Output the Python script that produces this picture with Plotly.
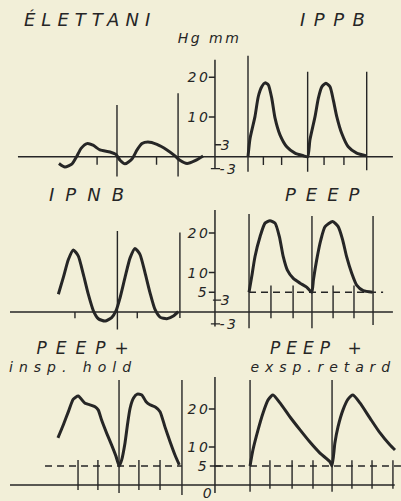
import json
import plotly.graph_objects as go

# ---------------- data (time in s, pressure in Hg mm) ----------------
elettani_t = [-2.88, -2.59, -2.24, -2.00, -1.80, -1.51, -1.22, -0.88, -0.39, -0.10, 0.10, 0.34,
              0.68, 0.93, 1.17, 1.46, 1.90, 2.39, 2.78, 3.02, 3.37, 3.76, 4.15]
elettani_p = [-1.7, -2.6, -1.8, 0.2, 2.1, 3.3, 2.9, 1.7, 1.2, 0.6, -0.9, -1.8,
              -0.6, 1.7, 3.3, 3.7, 3.1, 1.7, 0.2, -0.9, -1.7, -1.0, 0.2]

ippb_t = [0.00, 0.10, 0.34, 0.50, 0.67, 0.83, 0.99, 1.16, 1.32, 1.56, 1.89, 2.29, 2.70, 2.91,
          3.02, 3.27, 3.43, 3.60, 3.80, 4.00, 4.16, 4.33, 4.57, 4.89, 5.30, 5.79]
ippb_p = [0.0, 4.6, 10.1, 15.1, 17.6, 18.6, 18.1, 14.7, 9.7, 5.5, 2.5, 0.9, 0.25, 0.0,
          4.2, 10.1, 14.7, 17.6, 18.5, 17.6, 14.3, 10.1, 5.9, 2.5, 0.9, 0.2]

ipnb_t = [-2.91, -2.67, -2.42, -2.18, -1.94, -1.69, -1.45, -1.20, -0.96, -0.63, -0.31, -0.10,
          0.10, 0.34, 0.59, 0.83, 1.07, 1.32, 1.56, 1.80, 2.05, 2.38, 2.70, 2.94]
ipnb_p = [4.5, 8.7, 13.3, 15.7, 14.2, 9.5, 4.5, 0.3, -1.7, -2.3, -1.4, 0.3,
          3.6, 8.7, 13.7, 16.1, 14.6, 9.9, 4.9, 0.7, -1.3, -1.7, -1.0, 0.1]

peep_t = [0.05, 0.18, 0.34, 0.59, 0.83, 1.07, 1.32, 1.53, 1.72, 1.92, 2.21, 2.54, 2.86, 3.11,
          3.19, 3.35, 3.55, 3.76, 4.13, 4.40, 4.62, 4.81, 5.06, 5.30, 5.62, 6.08]
peep_p = [5.0, 8.9, 14.0, 19.1, 22.5, 23.1, 22.5, 19.1, 14.0, 10.6, 8.5, 7.3, 6.3, 5.0,
          8.1, 13.2, 18.2, 21.6, 22.9, 21.6, 18.2, 14.0, 9.8, 6.8, 5.4, 5.0]

hold_t = [-2.93, -2.67, -2.42, -2.18, -1.94, -1.61, -1.37, -1.12, -0.96, -0.80, -0.55, -0.31,
          -0.10, 0.06, 0.18, 0.34, 0.47, 0.59, 0.75, 0.94, 1.16, 1.37, 1.56, 1.85, 2.05, 2.29,
          2.54, 2.78, 2.99]
hold_p = [12.4, 15.8, 19.3, 22.6, 23.4, 21.5, 21.1, 20.6, 19.7, 17.1, 13.6, 10.5,
          7.6, 5.0, 6.6, 11.0, 16.2, 20.2, 22.8, 23.9, 23.7, 21.9, 21.1, 20.4, 19.3, 15.3,
          11.4, 7.9, 5.3]

retard_t = [0.10, 0.24, 0.49, 0.73, 0.98, 1.22, 1.56, 2.05, 2.54, 3.02, 3.51, 4.00,
            4.10, 4.24, 4.39, 4.63, 4.88, 5.12, 5.46, 5.95, 6.44, 6.93, 7.17]
retard_p = [5.0, 9.2, 14.5, 18.9, 22.4, 23.7, 21.6, 17.9, 14.5, 11.3, 8.4, 6.1,
            5.0, 11.1, 15.3, 19.7, 22.6, 23.7, 21.6, 17.6, 13.7, 10.5, 9.2]

# cycle-start lines and time ticks (s)
r1_left_cycles = [-0.05, 2.93]
r1_left_ticks = [-1.02, 1.88]
r1_right_cycles = [0.00, 2.91, 5.79]
r1_right_ticks = [0.75, 1.64, 3.71, 4.68]
r2_left_cycles = [-0.03, 3.02]
r2_left_ticks = [-2.10, 0.94]
r2_right_cycles = [0.05, 3.12, 6.10]
r2_right_ticks = [1.12, 2.20, 4.15, 5.17]
r3_left_cycles = [0.05, 3.12]
r3_left_ticks = [-1.95, -0.98, 1.02, 2.05]
r3_right_cycles = [0.10, 4.10]
r3_right_ticks = [1.07, 2.15, 3.17, 5.07, 6.05, 7.07]

# pressure scale labels
r1_labels_left = [20, 10]
r1_labels_right = [3, -3]
r2_labels_left = [20, 10, 5]
r2_labels_right = [3, -3]
r3_labels_left = [20, 10, 5]
r3_labels_zero = [0]
peep_level = 5

titles = ["ÉLETTANI", "IPPB", "IPNB", "PEEP", "PEEP+", "insp. hold", "PEEP +", "exsp.retard"]
unit_label = "Hg mm"

# ---------------- styling / geometry ----------------
W, H = 401, 501
INK = "#262626"
BG = "#f2efd8"
FONT = "DejaVu Sans"
PX_PER_S = 20.5
LEFT_ORIGIN = 118.0
RIGHT_ORIGIN = 248.0
AXIS_T = 4.73  # central pressure axis, in left-column time units

rows = {
    1: dict(base=156.7, k=3.97, lo=-7.0, hi=27.0),
    2: dict(base=312.0, k=3.95, lo=-7.0, hi=27.0),
    3: dict(base=485.0, k=3.80, lo=-4.0, hi=31.0),
}

fig = go.Figure()


def yname(r):
    return "y" if r == 1 else f"y{r}"


def segments(xa, ya, segs, width=1.4, dash=None):
    xs, ys = [], []
    for x0, y0, x1, y1 in segs:
        xs += [x0, x1, None]
        ys += [y0, y1, None]
    fig.add_trace(go.Scatter(x=xs, y=ys, mode="lines", xaxis=xa, yaxis=ya,
                             line=dict(color=INK, width=width, dash=dash),
                             hoverinfo="skip", showlegend=False))


panels = [
    dict(row=1, xa="x", t=elettani_t, p=elettani_p, cycles=r1_left_cycles,
         tops=[13.0, 16.0], bottoms=[-5.0, -5.0], ticks=r1_left_ticks, span=(0, -2.0)),
    dict(row=1, xa="x2", t=ippb_t, p=ippb_p, cycles=r1_right_cycles,
         tops=[25.4, 21.4, 21.4], bottoms=[-3.8, -3.8, -3.4], ticks=r1_right_ticks, span=(0, -2.1)),
    dict(row=2, xa="x", t=ipnb_t, p=ipnb_p, cycles=r2_left_cycles,
         tops=[20.5, 20.1], bottoms=[-4.4, -1.5], ticks=r2_left_ticks, span=(0, -1.6)),
    dict(row=2, xa="x2", t=peep_t, p=peep_p, cycles=r2_right_cycles,
         tops=[24.8, 24.3, 24.3], bottoms=[-4.1, -4.1, -3.3], ticks=r2_right_ticks,
         span=(6.7, -1.6), dashed=(0.05, 6.59)),
    dict(row=3, xa="x", t=hold_t, p=hold_p, cycles=r3_left_cycles,
         tops=[27.6, 27.6], bottoms=[-2.1, -2.6], ticks=r3_left_ticks,
         span=(6.6, -1.3), dashed=(-3.56, 3.12)),
    dict(row=3, xa="x2", t=retard_t, p=retard_p, cycles=r3_right_cycles,
         tops=[27.6, 27.6], bottoms=[-1.8, -1.8], ticks=r3_right_ticks,
         span=(6.5, -1.0), dashed=(-1.66, 7.46)),
]

baselines = {1: (-4.88, 13.41), 2: (-5.27, 13.41), 3: (-5.27, 13.50)}
axis_extent = {1: (-2.9, 24.4), 2: (-3.7, 25.8), 3: (-2.1, 28.4)}

for pnl in panels:
    ya = yname(pnl["row"])
    segs = [(c, b, c, tp) for c, tp, b in zip(pnl["cycles"], pnl["tops"], pnl["bottoms"])]
    segs += [(tk, pnl["span"][0], tk, pnl["span"][1]) for tk in pnl["ticks"]]
    segments(pnl["xa"], ya, segs, width=1.4)
    if "dashed" in pnl:
        d0, d1 = pnl["dashed"]
        segments(pnl["xa"], ya, [(d0, peep_level, d1, peep_level)], width=1.4, dash="7px,5px")

for r in (1, 2, 3):
    ya = yname(r)
    b0, b1 = baselines[r]
    a0, a1 = axis_extent[r]
    segments("x", ya, [(b0, 0, b1, 0), (AXIS_T, a0, AXIS_T, a1)], width=1.5)

# scale tick marks on central axis
L = 0.30
segments("x", "y", [(AXIS_T - L, v, AXIS_T, v) for v in r1_labels_left] +
         [(AXIS_T, r1_labels_right[0], AXIS_T + L, r1_labels_right[0]),
          (AXIS_T - 0.2, r1_labels_right[1], AXIS_T + 0.25, r1_labels_right[1])], width=1.4)
segments("x", "y2", [(AXIS_T - L, v, AXIS_T, v) for v in r2_labels_left] +
         [(AXIS_T - 0.1, r2_labels_right[0], AXIS_T + L, r2_labels_right[0]),
          (AXIS_T - 0.2, r2_labels_right[1], AXIS_T + 0.25, r2_labels_right[1])], width=1.4)
segments("x", "y3", [(AXIS_T - L, v, AXIS_T, v) for v in r3_labels_left[:2]] +
         [(AXIS_T - 0.25, r3_labels_left[2], AXIS_T + 0.4, r3_labels_left[2])], width=1.4)

# waveforms
for pnl in panels:
    fig.add_trace(go.Scatter(x=pnl["t"], y=pnl["p"], mode="lines", xaxis=pnl["xa"],
                             yaxis=yname(pnl["row"]),
                             line=dict(color=INK, width=3, shape="spline", smoothing=0.6),
                             hoverinfo="skip", showlegend=False))

annotations = []
spacing = {}  # text -> letter spacing in px (applied after render)


def label(text, x, y, xref, yref, anchor, size=14, ls=2.5, **kw):
    spacing[text] = ls
    annotations.append(dict(text=text, x=x, y=y, xref=xref, yref=yref, xanchor=anchor,
                            yanchor="middle", showarrow=False, borderpad=0,
                            font=dict(family=FONT, size=size, color=INK, style="italic"), **kw))


GAP = 0.30
for r, lefts, rights in ((1, r1_labels_left, r1_labels_right),
                         (2, r2_labels_left, r2_labels_right),
                         (3, r3_labels_left, [])):
    for v in lefts:
        label(str(v), AXIS_T - GAP, v, "x", yname(r), "right")
    for v in rights:
        label(str(v), AXIS_T + GAP, v, "x", yname(r), "left")
for v in r3_labels_zero:
    label(str(v), AXIS_T - 0.05, v, "x", "y3", "right", yshift=-8)


def title(text, cx, cy, size=18, ls=0.0):
    spacing[text] = ls
    annotations.append(dict(text=text, x=(cx + ls / 2) / W, y=1 - cy / H, xref="paper",
                            yref="paper", xanchor="center", yanchor="middle",
                            showarrow=False, borderpad=0,
                            font=dict(family=FONT, size=size, color=INK, style="italic")))


title(titles[0], 87, 19.5, 18, 6)
title(titles[1], 332, 19.5, 18, 8.5)
title(unit_label, 208, 38, 14, 2.5)
title(titles[2], 86, 194.5, 18, 11)
title(titles[3], 322, 194.5, 18, 10)
title(titles[4], 82, 347.5, 17, 9)
title(titles[5], 70, 366.5, 14, 6)
title(titles[6], 316, 347.5, 17, 6)
title(titles[7], 321, 366.5, 14, 5.9)

layout = dict(
    width=W, height=H, margin=dict(l=0, r=0, t=0, b=0),
    paper_bgcolor=BG, plot_bgcolor="rgba(0,0,0,0)",
    showlegend=False, annotations=annotations,
    xaxis=dict(domain=[0, 1], range=[-LEFT_ORIGIN / PX_PER_S, (W - LEFT_ORIGIN) / PX_PER_S],
               visible=False, fixedrange=True),
    xaxis2=dict(domain=[0, 1], range=[-RIGHT_ORIGIN / PX_PER_S, (W - RIGHT_ORIGIN) / PX_PER_S],
                visible=False, fixedrange=True, anchor="y"),
)
for r, g in rows.items():
    py_lo = g["base"] - g["k"] * g["lo"]
    py_hi = g["base"] - g["k"] * g["hi"]
    layout["yaxis" if r == 1 else f"yaxis{r}"] = dict(
        domain=[1 - py_lo / H, 1 - py_hi / H], range=[g["lo"], g["hi"]],
        visible=False, fixedrange=True, anchor="x")
fig.update_layout(**layout)

post = """
document.documentElement.style.margin = '0';
document.body.style.margin = '0';
document.body.style.background = '%s';
document.body.style.overflow = 'hidden';
var LS = %s;
document.querySelectorAll('text.annotation-text').forEach(function (el) {
  var s = LS[el.textContent];
  if (s) { el.style.letterSpacing = s + 'px'; }
});
""" % (BG, json.dumps(spacing, ensure_ascii=False))

fig.write_html("out.html", config={"displayModeBar": False, "staticPlot": True},
               post_script=post)
